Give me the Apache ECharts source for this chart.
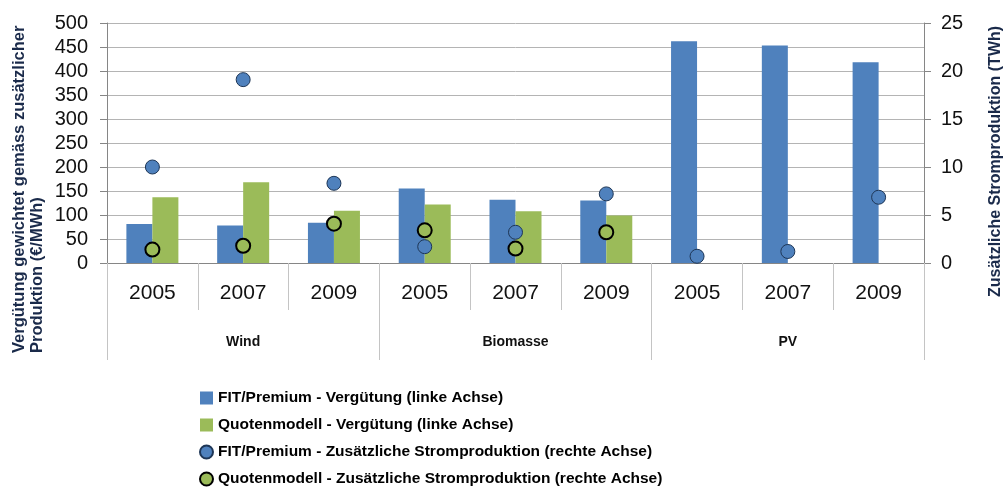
<!DOCTYPE html>
<html>
<head>
<meta charset="utf-8" />
<style>
  html, body { margin: 0; padding: 0; background: #fff; }
  #main { width: 1005px; height: 488px; }
</style>
</head>
<body>
<div id="main"></div>
<script src="https://cdn.jsdelivr.net/npm/echarts@6.0.0/dist/echarts.min.js"></script>
<script>
// categories
const years = ['2005', '2007', '2009', '2005', '2007', '2009', '2005', '2007', '2009'];
const groups = ['Wind', 'Biomasse', 'PV'];

// left axis (€/MWh)
const fitPay = [81, 78, 84, 155, 132, 130, 462, 453, 418];
const quotaPay = [137, 168, 109, 122, 108, 99, null, null, null];

// right axis (TWh)
const fitProd = [10.0, 19.1, 8.3, 1.7, 3.2, 7.2, 0.7, 1.2, 6.85];
const quotaProd = [1.4, 1.8, 4.1, 3.4, 1.5, 3.2, null, null, null];

const leftAxis = { min: 0, max: 500, interval: 50 };
const rightAxis = { min: 0, max: 25, interval: 5 };

const names = [
  'FIT/Premium - Vergütung (linke Achse)',
  'Quotenmodell - Vergütung (linke Achse)',
  'FIT/Premium - Zusätzliche Stromproduktion (rechte Achse)',
  'Quotenmodell - Zusätzliche Stromproduktion (rechte Achse)'
];

const BLUE = '#4f81bd';
const GREEN = '#9bbb59';
const FONT = "'Liberation Sans', Arial, sans-serif";
const TITLE = '#1a2a4a';

const chart = echarts.init(document.getElementById('main'), null, { renderer: 'canvas' });

chart.setOption({
  animation: false,
  backgroundColor: '#fff',
  grid: { left: 107, right: 81, top: 23, bottom: 225, containLabel: false },
  legend: {
    orient: 'vertical',
    left: 199,
    top: 390,
    height: 120,
    padding: 0,
    itemWidth: 13,
    itemHeight: 13,
    itemGap: 11,
    textStyle: { fontFamily: FONT, fontWeight: 'bold', fontSize: 15.5, color: '#000' },
    data: [
      { name: names[0], icon: 'rect' },
      { name: names[1], icon: 'rect' },
      { name: names[2], icon: 'circle' },
      { name: names[3], icon: 'circle' }
    ]
  },
  xAxis: [
    {
      type: 'category',
      data: years,
      boundaryGap: true,
      axisLine: { show: true, lineStyle: { color: '#868686', width: 1 } },
      axisTick: { show: true, length: 47, lineStyle: { color: '#c4c4c4' } },
      axisLabel: { fontFamily: FONT, fontSize: 21, color: '#111', margin: 20 }
    },
    {
      type: 'category',
      data: groups,
      position: 'bottom',
      boundaryGap: true,
      axisLine: { show: false },
      axisTick: { show: true, length: 97, lineStyle: { color: '#c4c4c4' } },
      axisLabel: { fontFamily: FONT, fontWeight: 'bold', fontSize: 14, color: '#111', margin: 72 }
    }
  ],
  yAxis: [
    {
      type: 'value',
      min: leftAxis.min,
      max: leftAxis.max,
      interval: leftAxis.interval,
      axisLine: { show: true, lineStyle: { color: '#868686' } },
      axisTick: { show: true, length: 7, lineStyle: { color: '#868686' } },
      axisLabel: { fontFamily: FONT, fontSize: 20, color: '#111', margin: 19 },
      splitLine: { show: true, lineStyle: { color: '#b4b4b4', width: 1 } }
    },
    {
      type: 'value',
      position: 'right',
      min: rightAxis.min,
      max: rightAxis.max,
      interval: rightAxis.interval,
      axisLine: { show: true, lineStyle: { color: '#868686' } },
      axisTick: { show: true, length: 7, lineStyle: { color: '#868686' } },
      axisLabel: { fontFamily: FONT, fontSize: 20, color: '#111', margin: 17 },
      splitLine: { show: false }
    }
  ],
  series: [
    {
      name: names[0], type: 'bar', data: fitPay,
      xAxisIndex: 0, yAxisIndex: 0,
      barWidth: 26, barGap: '0%',
      itemStyle: { color: BLUE }
    },
    {
      name: names[1], type: 'bar', data: quotaPay,
      xAxisIndex: 0, yAxisIndex: 0,
      barWidth: 26, barGap: '0%',
      itemStyle: { color: GREEN }
    },
    {
      name: names[2], type: 'scatter', data: fitProd,
      xAxisIndex: 0, yAxisIndex: 1,
      symbol: 'circle', symbolSize: 14, z: 5,
      itemStyle: { color: BLUE, borderColor: '#1e3656', borderWidth: 1, opacity: 1 }
    },
    {
      name: names[3], type: 'scatter', data: quotaProd,
      xAxisIndex: 0, yAxisIndex: 1,
      symbol: 'circle', symbolSize: 14, z: 6,
      itemStyle: { color: GREEN, borderColor: '#000', borderWidth: 2, opacity: 1 }
    }
  ],
  graphic: [
    {
      type: 'text',
      x: 28, y: 353,
      rotation: Math.PI / 2,
      style: {
        text: 'Vergütung gewichtet gemäss zusätzlicher\nProduktion (€/MWh)',
        font: 'bold 16.5px ' + FONT,
        fill: TITLE,
        align: 'left',
        verticalAlign: 'middle',
        lineHeight: 18
      }
    },
    {
      type: 'text',
      x: 996, y: 297,
      rotation: Math.PI / 2,
      style: {
        text: 'Zusätzliche Stromproduktion (TWh)',
        font: 'bold 16px ' + FONT,
        fill: TITLE,
        align: 'left',
        verticalAlign: 'middle'
      }
    }
  ]
});
</script>
</body>
</html>
